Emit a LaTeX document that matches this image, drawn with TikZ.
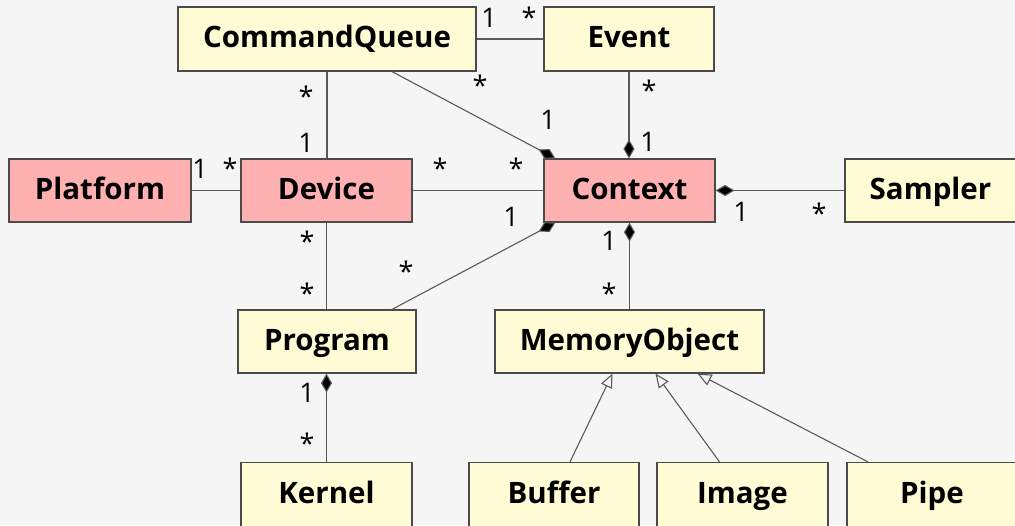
\documentclass[tikz,border=0pt]{standalone}
\usepackage{fontspec}
\setmainfont{Open Sans}
\usetikzlibrary{arrows.meta}
\definecolor{bgc}{HTML}{F5F5F5}
\definecolor{ylw}{HTML}{FEFBD5}
\definecolor{pnk}{HTML}{FFB1B1}
\definecolor{edge}{HTML}{4A4A4A}
\definecolor{conn}{HTML}{5A5A5A}
\tikzset{
  box/.style={draw=edge, line width=1.2pt, rectangle, minimum height=64pt, inner sep=0pt,
    text height=17pt, text depth=0pt,
    font=\fontsize{29.5}{31}\selectfont\bfseries, text=black},
  ybox/.style={box, fill=ylw},
  pbox/.style={box, fill=pnk},
  link/.style={draw=conn, line width=1.1pt},
  comp/.style={link, -{Diamond[length=19pt,width=11pt,fill=black]}},
  gen/.style={link, -{Triangle[open,length=14pt,width=12pt]}},
  lbl/.style={inner sep=0pt, font=\fontsize{27}{29}\selectfont, text=black}
}
\begin{document}
\begin{tikzpicture}[x=1pt,y=-1pt]
\useasboundingbox (0,0) rectangle (1015,525);
\fill[bgc] (0,0) rectangle (1015,525);
\clip (0,0) rectangle (1015,525);
% boxes
\node[ybox, minimum width=298pt] (cq) at (327,39) {CommandQueue};
\node[ybox, minimum width=170pt] (event) at (629,39) {Event};
\node[pbox, minimum width=182pt, minimum height=63pt] (platform) at (100,190.5) {Platform};
\node[pbox, minimum width=171pt, minimum height=63pt] (device) at (326.5,190.5) {Device};
\node[pbox, minimum width=171pt, minimum height=63pt] (context) at (629.5,190.5) {Context};
\node[ybox, minimum width=171pt, minimum height=63pt] (sampler) at (930.5,190.5) {Sampler};
\node[ybox, minimum width=178pt, minimum height=63pt] (program) at (327,341.5) {Program};
\node[ybox, minimum width=269pt, minimum height=63pt] (memobj) at (629.5,341.5) {MemoryObject};
\node[ybox, minimum width=171pt] (kernel) at (326.5,494.5) {Kernel};
\node[ybox, minimum width=170pt] (buffer) at (554,494.5) {Buffer};
\node[ybox, minimum width=171pt] (image) at (742.5,494.5) {Image};
\node[ybox, minimum width=170pt] (pipe) at (932,494.5) {Pipe};
% connectors
\draw[link] (cq.east) -- (event.west);
\draw[link] (cq.south) -- (cq.south |- device.north);
\draw[comp] ([xshift=65pt]cq.south) -- ([xshift=12pt]context.north west);
\draw[comp] (event.south) -- (event.south |- context.north);
\draw[link] (platform.east) -- (device.west);
\draw[link] (device.east) -- (context.west);
\draw[comp] (sampler.west) -- (context.east);
\draw[link] (device.south) -- (device.south |- program.north);
\draw[comp] ([xshift=65pt]program.north) -- ([xshift=12pt]context.south west);
\draw[comp] (memobj.north) -- (memobj.north |- context.south);
\draw[comp] (kernel.north) -- (kernel.north |- program.south);
\draw[gen] ([xshift=16pt]buffer.north) -- ([xshift=-17pt]memobj.south);
\draw[gen] ([xshift=-23pt]image.north) -- ([xshift=26pt]memobj.south);
\draw[gen] ([xshift=-64pt]pipe.north) -- ([xshift=68pt]memobj.south);
% multiplicities
\node[lbl] (m1) at (489,18) {1};
\node[lbl] (m2) at (529,17) {*};
\node[lbl] (m3) at (306,96) {*};
\node[lbl] (m4) at (306,143) {1};
\node[lbl] (m5) at (480,85) {*};
\node[lbl] (m6) at (548,120) {1};
\node[lbl] (m7) at (649,90) {*};
\node[lbl] (m8) at (648,142) {1};
\node[lbl] (m9) at (200,169) {1};
\node[lbl] (m10) at (230,168) {*};
\node[lbl] (m11) at (440,168) {*};
\node[lbl] (m12) at (516,168) {*};
\node[lbl] (m13) at (741,212) {1};
\node[lbl] (m14) at (819,213) {*};
\node[lbl] (m15) at (307,241) {*};
\node[lbl] (m16) at (307,293) {*};
\node[lbl] (m17) at (406,271) {*};
\node[lbl] (m18) at (511,217) {1};
\node[lbl] (m19) at (609,241) {1};
\node[lbl] (m20) at (609,293) {*};
\node[lbl] (m21) at (307,393) {1};
\node[lbl] (m22) at (307,443) {*};
\end{tikzpicture}
\end{document}
